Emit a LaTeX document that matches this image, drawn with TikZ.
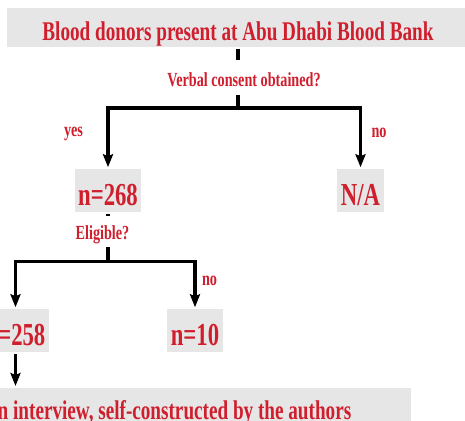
\documentclass[tikz,border=0pt]{standalone}
\usepackage{fontspec}
\newfontfamily\figfont[FakeStretch=0.71]{Liberation Serif}
\usetikzlibrary{arrows.meta}
\definecolor{figred}{RGB}{208,30,45}
\definecolor{boxgray}{RGB}{230,230,230}
\tikzset{
	flowbox/.style={fill=boxgray,text=figred,inner ysep=0pt,inner xsep=3.5pt,text depth=0pt},
	numbox/.style={flowbox,minimum height=43pt,text height=30.4pt,font=\figfont\bfseries\fontsize{32}{32}\selectfont},
	ask/.style={text=figred,inner sep=0pt,text depth=0pt,font=\figfont\bfseries\fontsize{20}{20}\selectfont}
	}

\begin{document}
\begin{tikzpicture}[x=1pt,y=-1pt,>={Stealth[length=13pt,width=10pt,inset=2pt]}]
		\path[use as bounding box] (0,0) rectangle (465,420);
		\clip (0,0) rectangle (465,420);
		\tikzstyle{every path}=[line width=3.5pt,black]
		
		%% Donors
		\draw (238,27.5) node [flowbox,minimum width=462pt,minimum height=39pt,text height=26.4pt,font=\figfont\bfseries\fontsize{27}{27}\selectfont] (donors) {Blood donors present at Abu Dhabi Blood Bank};
		\draw (244,77.5) node [ask,minimum height=31pt,text height=17pt] (consent) {Verbal consent obtained?};
		\coordinate (split1) at (238,108);
		\draw (donors.south -| split1) -- (consent.north -| split1);
		\draw (consent.south -| split1) -- (split1);
		
		%% Consent
		\draw (108,190.5) node [numbox] (n268) {n=268};
		\draw (360.5,190.5) node [numbox] (na) {N/A};
		\draw [->] (split1) -| (n268);
		\draw [->] (split1) -| (na);
		\draw (73.5,136) node [ask,anchor=base] (yes1) {yes};
		\draw (379,137.5) node [ask,anchor=base] (no1) {no};
		
		%% Eligibility
		\draw (102.5,231.5) node [ask,minimum height=27pt,text height=15pt] (elig) {Eligible?};
		\coordinate (split2) at (108,261.5);
		\draw (n268) -- (elig.north -| n268);
		\draw (elig.south -| split2) -- (split2);
		\draw (15.5,330.5) node [numbox] (n258) {n=258};
		\draw (195,330.5) node [numbox] (n10) {n=10};
		\draw [->] (split2) -| (n258);
		\draw [->] (split2) -| (n10);
		\draw (209.5,285) node [ask,anchor=base] (no2) {no};
		
		%% Interview
		\draw (413,386) node [flowbox,anchor=north east,inner xsep=60pt,minimum height=43pt,text height=21pt,font=\figfont\bfseries\fontsize{27}{27}\selectfont] (method) {Questionnaire in interview, self-constructed by the authors};
		\draw [->] (n258) -- (n258 |- method.north);
		
	\end{tikzpicture}
\end{document}
